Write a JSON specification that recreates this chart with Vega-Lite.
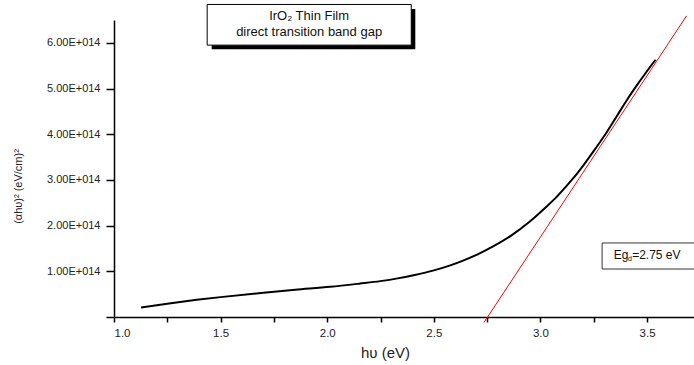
{
  "$schema": "https://vega.github.io/schema/vega-lite/v6.json",
  "width": 580,
  "height": 297,
  "autosize": {"type": "none"},
  "padding": {"left": 114, "top": 20, "right": 0, "bottom": 48},
  "background": "white",
  "config": {
    "view": {"stroke": null},
    "font": "Liberation Sans",
    "axis": {
      "domainColor": "black",
      "domainWidth": 1.5,
      "tickColor": "black",
      "tickWidth": 1.5,
      "grid": false,
      "labelFont": "Liberation Sans",
      "labelColor": "#222",
      "titleFont": "Liberation Sans",
      "titleColor": "#222",
      "titleFontWeight": "normal"
    }
  },
  "datasets": {
    "curve": [
      {"hv": 1.127, "v": 2.1e13},
      {"hv": 1.25, "v": 2.9e13},
      {"hv": 1.388, "v": 3.75e13},
      {"hv": 1.5, "v": 4.35e13},
      {"hv": 1.701, "v": 5.3e13},
      {"hv": 1.85, "v": 5.95e13},
      {"hv": 2.014, "v": 6.6e13},
      {"hv": 2.15, "v": 7.3e13},
      {"hv": 2.249, "v": 7.85e13},
      {"hv": 2.33, "v": 8.45e13},
      {"hv": 2.405, "v": 9.15e13},
      {"hv": 2.5, "v": 1.02e14},
      {"hv": 2.577, "v": 1.13e14},
      {"hv": 2.64, "v": 1.24e14},
      {"hv": 2.7, "v": 1.36e14},
      {"hv": 2.78, "v": 1.55e14},
      {"hv": 2.859, "v": 1.77e14},
      {"hv": 2.953, "v": 2.1e14},
      {"hv": 3.02, "v": 2.38e14},
      {"hv": 3.078, "v": 2.64e14},
      {"hv": 3.109, "v": 2.8e14},
      {"hv": 3.16, "v": 3.07e14},
      {"hv": 3.203, "v": 3.33e14},
      {"hv": 3.26, "v": 3.7e14},
      {"hv": 3.313, "v": 4.06e14},
      {"hv": 3.36, "v": 4.41e14},
      {"hv": 3.407, "v": 4.76e14},
      {"hv": 3.455, "v": 5.09e14},
      {"hv": 3.501, "v": 5.39e14},
      {"hv": 3.52, "v": 5.51e14},
      {"hv": 3.54, "v": 5.63e14}
    ],
    "fit": [
      {"hv": 2.735, "v": -1.2e13},
      {"hv": 3.685, "v": 6.59e14}
    ],
    "shadow": [{"x1": 1.458, "x2": 2.413, "y1": 6.74e14, "y2": 5.86e14}],
    "box": [{"x1": 1.437, "x2": 2.394, "y1": 6.84e14, "y2": 5.95e14}],
    "boxtext": [
      {"hv": 1.915, "v": 6.59e14, "t": "IrO₂ Thin Film"},
      {"hv": 1.915, "v": 6.24e14, "t": "direct transition band gap"}
    ],
    "egbox": [{"x1": 3.289, "x2": 3.9, "y1": 1.62e14, "y2": 1.05e14}],
    "egtext": [
      {"hv": 3.344, "v": 1.36e14, "t": "Eg"},
      {"hv": 3.43, "v": 1.36e14, "t": "=2.75 eV"}
    ],
    "egsub": [{"hv": 3.411, "v": 1.26e14, "t": "d"}]
  },
  "layer": [
    {
      "data": {"name": "curve"},
      "mark": {"type": "line", "color": "black", "strokeWidth": 2, "interpolate": "monotone"},
      "encoding": {
        "x": {
          "field": "hv", "type": "quantitative",
          "scale": {"domain": [1.0, 3.72], "nice": false, "zero": false},
          "axis": {
            "title": "hυ (eV)",
            "titleFontSize": 15,
            "titleX": 271,
            "titleY": 35,
            "titleBaseline": "middle",
            "values": [1.0, 1.25, 1.5, 1.75, 2.0, 2.25, 2.5, 2.75, 3.0, 3.25, 3.5],
            "labelExpr": "(datum.value*2) % 1 == 0 ? format(datum.value, '.1f') : ''",
            "labelFontSize": 11.5,
            "labelPadding": 5,
            "tickSize": 5
          }
        },
        "y": {
          "field": "v", "type": "quantitative",
          "scale": {"domain": [0, 6.5e14], "nice": false},
          "axis": {
            "title": "(αhυ)² (eV/cm)²",
            "titleFontSize": 11,
            "titleX": -96,
            "titleY": 166,
            "titleBaseline": "middle",
            "titleAngle": -90,
            "values": [0, 5e13, 1e14, 1.5e14, 2e14, 2.5e14, 3e14, 3.5e14, 4e14, 4.5e14, 5e14, 5.5e14, 6e14, 6.5e14],
            "labelExpr": "datum.value == 0 || round(datum.value/1e14) != datum.value/1e14 ? '' : format(datum.value/1e14, '.2f') + 'E+014'",
            "labelFontSize": 11,
            "labelPadding": 6,
            "tickSize": {"condition": {"test": "round(datum.value/1e14) == datum.value/1e14", "value": 8}, "value": 4}
          }
        }
      }
    },
    {
      "data": {"name": "fit"},
      "mark": {"type": "line", "color": "red", "strokeWidth": 1, "clip": false},
      "encoding": {
        "x": {"field": "hv", "type": "quantitative"},
        "y": {"field": "v", "type": "quantitative"}
      }
    },
    {
      "data": {"name": "shadow"},
      "mark": {"type": "rect", "color": "black"},
      "encoding": {
        "x": {"field": "x1", "type": "quantitative"},
        "x2": {"field": "x2"},
        "y": {"field": "y1", "type": "quantitative"},
        "y2": {"field": "y2"}
      }
    },
    {
      "data": {"name": "box"},
      "mark": {"type": "rect", "fill": "white", "stroke": "black", "strokeWidth": 1},
      "encoding": {
        "x": {"field": "x1", "type": "quantitative"},
        "x2": {"field": "x2"},
        "y": {"field": "y1", "type": "quantitative"},
        "y2": {"field": "y2"}
      }
    },
    {
      "data": {"name": "boxtext"},
      "mark": {"type": "text", "fontSize": 13, "color": "#111", "align": "center", "baseline": "middle"},
      "encoding": {
        "x": {"field": "hv", "type": "quantitative"},
        "y": {"field": "v", "type": "quantitative"},
        "text": {"field": "t"}
      }
    },
    {
      "data": {"name": "egbox"},
      "mark": {"type": "rect", "fill": "white", "stroke": "#333", "strokeWidth": 1},
      "encoding": {
        "x": {"field": "x1", "type": "quantitative"},
        "x2": {"field": "x2"},
        "y": {"field": "y1", "type": "quantitative"},
        "y2": {"field": "y2"}
      }
    },
    {
      "data": {"name": "egtext"},
      "mark": {"type": "text", "fontSize": 12, "color": "#111", "align": "left", "baseline": "middle"},
      "encoding": {
        "x": {"field": "hv", "type": "quantitative"},
        "y": {"field": "v", "type": "quantitative"},
        "text": {"field": "t"}
      }
    },
    {
      "data": {"name": "egsub"},
      "mark": {"type": "text", "fontSize": 7, "color": "#111", "align": "left", "baseline": "middle"},
      "encoding": {
        "x": {"field": "hv", "type": "quantitative"},
        "y": {"field": "v", "type": "quantitative"},
        "text": {"field": "t"}
      }
    }
  ]
}
